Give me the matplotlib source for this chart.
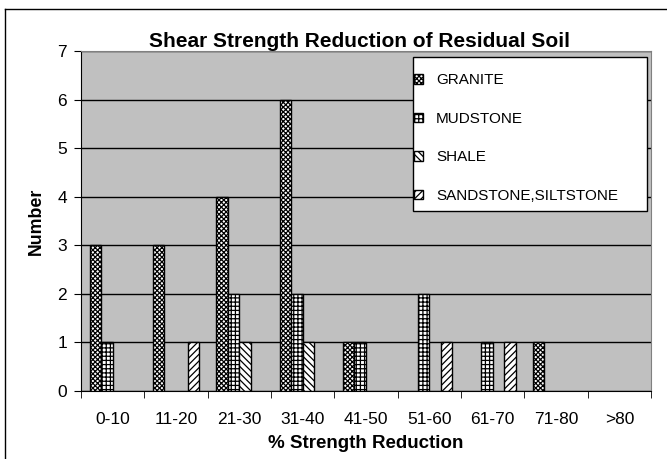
#Recreate the Excel-style bar chart of shear strength reduction in residual soils.
import numpy as np
import matplotlib.pyplot as plt
from matplotlib.lines import Line2D
from matplotlib.patches import Rectangle

categories = ['0-10', '11-20', '21-30', '31-40', '41-50', '51-60', '61-70', '71-80', '>80']
granite = [3, 3, 4, 6, 1, 0, 0, 1, 0]
mudstone = [1, 0, 2, 2, 1, 2, 1, 0, 0]
shale = [0, 0, 1, 1, 0, 0, 0, 0, 0]
sandstone = [0, 1, 0, 0, 0, 1, 1, 0, 0]

series = [
    ('GRANITE', granite, 'xxxxxxx'),
    ('MUDSTONE', mudstone, '++++'),
    ('SHALE', shale, '\\\\\\\\\\'),
    ('SANDSTONE,SILTSTONE', sandstone, '/////'),
]

plt.rcParams['font.family'] = ['Liberation Sans', 'DejaVu Sans']
plt.rcParams['hatch.linewidth'] = 0.9

fig = plt.figure(figsize=(6.67, 4.59), dpi=100)
ax = fig.add_axes([81/667, 1-391/459, 570/667, 340/459])
ax.set_facecolor('#C0C0C0')

x = np.arange(len(categories))
width = 1 / 5.5  # Excel gap width of 150%
for i, (name, vals, hatch) in enumerate(series):
    pos = x - 2 * width + (i + 0.5) * width
    vals = np.array(vals)
    mask = vals > 0
    ax.bar(pos[mask], vals[mask], width, color='white', edgecolor='black',
           hatch=hatch, linewidth=1.0, label=name, zorder=3)

ax.set_xlim(-0.5, len(categories) - 0.5)
ax.set_ylim(0, 7)
ax.set_yticks(range(8))
ax.set_xticks(x)
ax.set_xticklabels(categories)
ax.set_xticks(np.arange(-0.5, len(categories)), minor=True)
ax.tick_params(axis='x', which='major', length=0, labelsize=12.5, pad=15)
ax.tick_params(axis='x', which='minor', length=5, direction='out', color='black')
ax.tick_params(axis='y', length=5, direction='out', labelsize=12.5, pad=5)
ax.grid(axis='y', color='black', linewidth=1.0, zorder=1)
ax.set_axisbelow(True)

for side in ['top', 'right']:
    ax.spines[side].set_color('#808080')
ax.spines['left'].set_color('black')
ax.spines['bottom'].set_color('black')

ax.set_title('Shear Strength Reduction of Residual Soil', fontsize=15,
             fontweight='bold', pad=3, x=0.489)
ax.set_xlabel('% Strength Reduction', fontsize=13.5, fontweight='bold', labelpad=6)
ax.set_ylabel('Number', fontsize=12.8, fontweight='bold', labelpad=9)

# legend frame drawn separately so the padding can differ per side
ax.add_patch(Rectangle((0.582, 0.529), 0.411, 0.453, transform=ax.transAxes,
                       facecolor='white', edgecolor='black', linewidth=1.0, zorder=5))
leg = ax.legend(loc='upper left', bbox_to_anchor=(0.584, 0.934),
                fontsize=11, frameon=False, handlelength=0.6, handleheight=0.6,
                handletextpad=0.85, labelspacing=1.6, borderpad=0, borderaxespad=0)
leg.set_zorder(6)

# outer chart border
fig.add_artist(Line2D([5/667, 5/667], [1-9/459, 0], color='black', linewidth=1.0))
fig.add_artist(Line2D([5/667, 1], [1-9/459, 1-9/459], color='black', linewidth=1.0))

fig.savefig('out.png', dpi=100)
